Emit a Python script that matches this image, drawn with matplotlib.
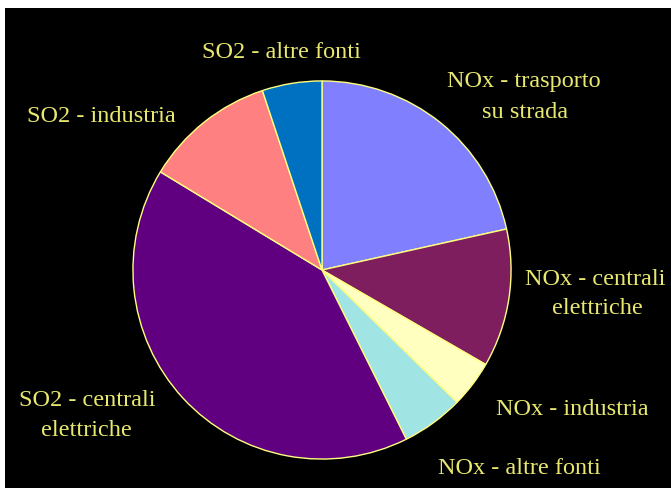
import matplotlib
matplotlib.use("Agg")
import matplotlib.pyplot as plt

# Data (percent shares)
categories = ["NOx - trasporto\nsu strada", "NOx - centrali\nelettriche", "NOx - industria",
              "NOx - altre fonti", "SO2 - centrali\nelettriche", "SO2 - industria",
              "SO2 - altre fonti"]
values = [21.5, 11.8, 4.0, 5.3, 41.0, 11.2, 5.1]
colors = ["#8080FF", "#7E1E5E", "#FFFFC0", "#A0E4E4", "#600080", "#FF8080", "#0070C0"]

# per-line label anchors in pixel coords: (x, baseline y from top, ha)
label_pos = [
    [(524, 87, "center"), (525, 118, "center")],
    [(525, 285, "left"), (597, 314, "center")],
    [(572, 415, "center")],
    [(519, 474, "center")],
    [(87, 406, "center"), (86, 436, "center")],
    [(101, 122, "center")],
    [(281, 58, "center")],
]

W, H = 671, 488
fig = plt.figure(figsize=(W / 100, H / 100), dpi=100, facecolor="white")
# black panel with white margin on top/left
bg = fig.add_axes([5 / W, 0, 1 - 5 / W, (H - 8) / H])
bg.set_facecolor("black")
bg.set_xticks([])
bg.set_yticks([])
for s in bg.spines.values():
    s.set_visible(False)

cx, cy, rx, ry = 322, 270, 190, 190
ax = fig.add_axes([(cx - rx) / W, (H - cy - ry) / H, 2 * rx / W, 2 * ry / H])
ax.pie(values, colors=colors, startangle=90, counterclock=False, frame=True,
       wedgeprops=dict(edgecolor="#FFFF80", linewidth=1.0))
ax.set_xlim(-1.005, 1.005)
ax.set_ylim(-1.005, 1.005)
ax.set_axis_off()

for lab, anchors in zip(categories, label_pos):
    for line, (px, py, ha) in zip(lab.split("\n"), anchors):
        fig.text(px / W, 1 - py / H, line, ha=ha, va="baseline", color="#E8E870",
                 fontsize=17.5, family="Liberation Serif")

fig.savefig("out.png", dpi=100, facecolor=fig.get_facecolor())
